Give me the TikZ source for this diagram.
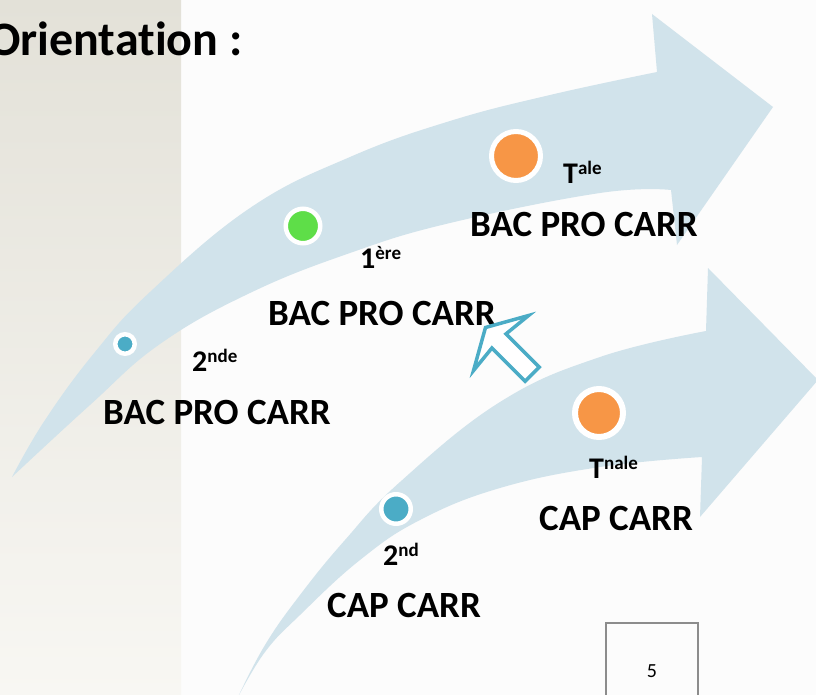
\documentclass[tikz,border=0pt]{standalone}
\usepackage{fontspec}
\setmainfont{Carlito}[Ligatures={NoCommon,TeX}]
\definecolor{arrowblue}{RGB}{209,227,235}
\definecolor{accblue}{RGB}{75,172,198}
\definecolor{accorange}{RGB}{247,150,70}
\definecolor{accgreen}{RGB}{94,222,72}
\definecolor{panelA}{RGB}{227,225,216}
\definecolor{panelB}{RGB}{248,247,243}
\definecolor{pagebg}{RGB}{252,252,252}
\definecolor{boxgray}{RGB}{140,140,140}
\newcommand{\upx}[1]{\raisebox{9pt}{\fontsize{19}{20}\selectfont #1}}
\tikzset{
  big/.style={font=\fontsize{37}{40}\selectfont\bfseries, anchor=base west, inner sep=0pt},
  lvl/.style={font=\fontsize{30}{34}\selectfont\bfseries, anchor=base west, inner sep=0pt},
  dot/.style={circle, draw=white, inner sep=0pt},
  hollow/.style={draw=accblue, fill=white, line width=3.5pt, line join=miter},
  bigarrow/.style={fill=arrowblue},
}
\begin{document}
\begin{tikzpicture}[x=1pt,y=-1pt]
\useasboundingbox (0,0) rectangle (816,695);
\fill[pagebg] (0,0) rectangle (816,695);
\shade[top color=panelA, bottom color=panelB] (0,0) rectangle (181,695);
\begin{scope}
\clip (0,0) rectangle (816,695);
% upper curved arrow
\fill[bigarrow] plot[smooth, tension=0.7] coordinates {(12,477) (45,420) (95,352) (150,292) (250,208) (350,157) (450,121) (550,95) (657,72)}
  -- (652,14) -- (773,107) -- (677,245) -- (671,190)
  -- plot[smooth, tension=0.7] coordinates {(671,190) (600,193) (450,223) (350,253) (250,293) (160,344) (90,405) (12,477)} -- cycle;
% lower curved arrow
\fill[bigarrow] plot[smooth, tension=0.7] coordinates {(238,697) (265,645) (300,595) (345,540) (400,482) (500,402) (600,357) (706,331)}
  -- (708,268) -- (818,380) -- (700,517) -- (702,457)
  -- plot[smooth, tension=0.7] coordinates {(702,457) (600,467) (500,488) (420,520) (360,560) (300,615) (265,652) (238,697)} -- cycle;
\end{scope}
% dots
\node[dot, fill=accblue, line width=4.5pt, minimum size=19.5pt] (d1) at (125,344) {};
\node[dot, fill=accgreen, line width=4.5pt, minimum size=34.5pt] (d2) at (303,226) {};
\node[dot, fill=accorange, line width=5pt, minimum size=49pt] (d3) at (516,156) {};
\node[dot, fill=accblue, line width=4.5pt, minimum size=29.5pt] (d4) at (396,509) {};
\node[dot, fill=accorange, line width=6pt, minimum size=48pt] (d5) at (599,413) {};
% title
\node[font=\fontsize{48}{52}\selectfont\bfseries, anchor=base west, inner sep=0pt] (title) at (-12,56) {Orientation :};
% labels
\node[lvl] (l1) at (192,371) {2\upx{nde}};
\node[big] (b1) at (103,424) {BAC PRO CARR};
\node[lvl] (l2) at (360,268) {1\upx{ère}};
\node[big] (b2) at (268,325) {BAC PRO CARR};
\node[lvl] (l3) at (563,183) {T\upx{ale}};
\node[big] (b3) at (470,236) {BAC PRO CARR};
\node[lvl] (l4) at (383,565) {2\upx{nd}};
\node[big] (c1) at (327,617) {CAP CARR};
\node[lvl] (l5) at (589,478) {T\upx{nale}};
\node[big] (c2) at (539,530) {CAP CARR};
% hollow arrow
\draw[hollow] (485.5,327.5) -- (528.6,315.5) -- (506.0,333.9) -- (539.2,367.1) -- (525.1,381.2) -- (491.9,348.0) -- (473.5,370.6) -- cycle;
% page number box
\draw[boxgray, line width=1.5pt] (606,700) -- (606,623) -- (698,623) -- (698,700);
\node[font=\fontsize{20}{24}\selectfont, anchor=base, inner sep=0pt] (pg) at (652,677) {5};
\end{tikzpicture}
\end{document}
